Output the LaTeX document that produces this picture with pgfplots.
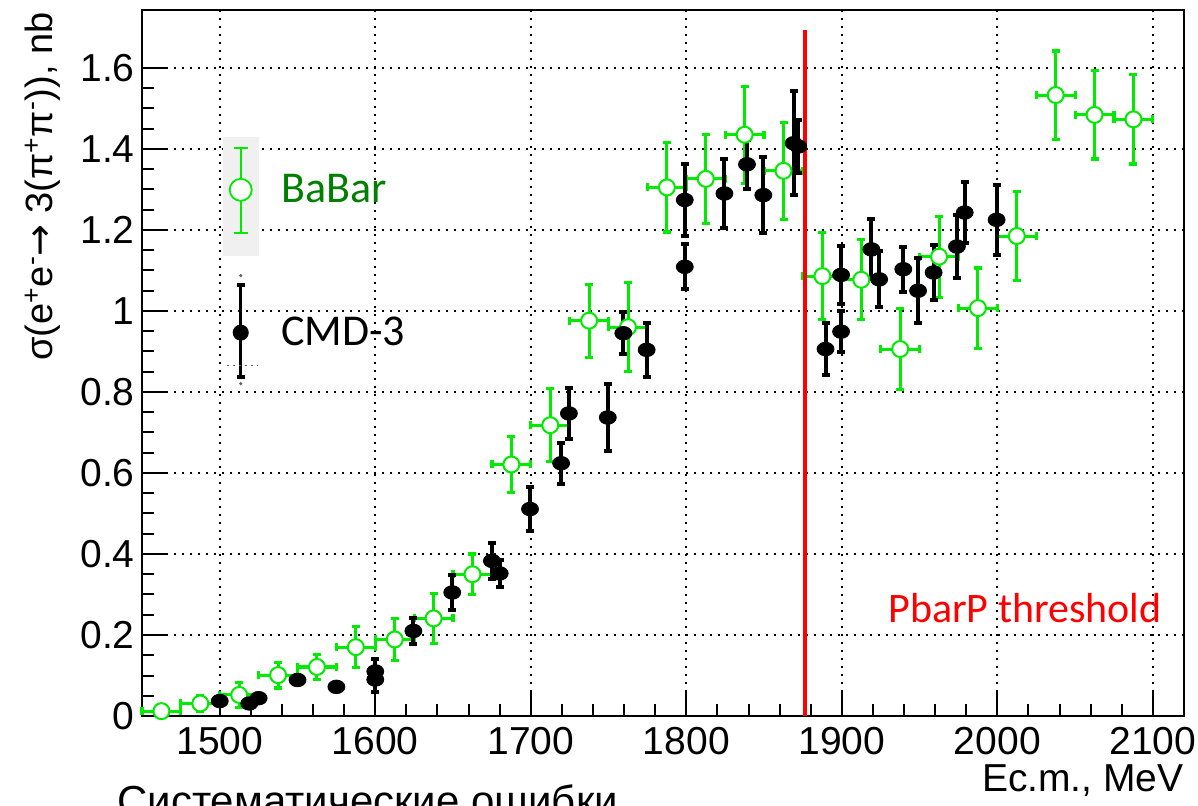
\documentclass[border=0pt]{standalone}
\usepackage{fontspec}
\setmainfont{Liberation Sans}
\newfontfamily\carlito{Carlito}
\newfontfamily\djv{DejaVu Sans}
\usepackage{pgfplots}
\usepackage{pgfplotstable}
\pgfplotsset{compat=1.18}
\definecolor{bgreen}{RGB}{0,235,0}
\definecolor{dgreen}{RGB}{0,128,0}
\definecolor{lgray}{RGB}{240,240,240}

\pgfplotstableread{
x ex y ey
1462.5 12.5 0.012 0.010
1487.5 12.5 0.031 0.020
1512.5 12.5 0.052 0.031
1537.5 12.5 0.101 0.032
1562.5 12.5 0.121 0.031
1587.5 12.5 0.170 0.051
1612.5 12.5 0.189 0.051
1637.5 12.5 0.241 0.061
1662.5 12.5 0.350 0.050
1687.5 12.5 0.621 0.070
1712.5 12.5 0.718 0.090
1737.5 12.5 0.976 0.090
1762.5 12.5 0.960 0.110
1787.5 12.5 1.305 0.110
1812.5 12.5 1.326 0.110
1837.5 12.5 1.435 0.120
1862.5 12.5 1.346 0.120
1887.5 12.5 1.086 0.108
1912.5 12.5 1.077 0.099
1937.5 12.5 0.906 0.100
1962.5 12.5 1.134 0.100
1987.5 12.5 1.007 0.099
2012.5 12.5 1.185 0.109
2037.5 12.5 1.533 0.109
2062.5 12.5 1.484 0.109
2087.5 12.5 1.473 0.110
}\babar

\pgfplotstableread{
x y ey
1500.0 0.037 0.010
1519.0 0.031 0.010
1525.0 0.044 0.010
1550.0 0.089 0.010
1575.0 0.072 0.010
1600.0 0.110 0.030
1600.0 0.090 0.030
1624.5 0.210 0.032
1649.5 0.305 0.043
1675.0 0.383 0.045
1680.0 0.352 0.033
1699.5 0.511 0.054
1719.5 0.624 0.050
1724.5 0.747 0.062
1749.5 0.737 0.083
1759.5 0.945 0.052
1774.5 0.904 0.066
1799.0 1.274 0.090
1799.0 1.109 0.056
1824.5 1.290 0.086
1839.0 1.362 0.061
1849.5 1.286 0.093
1869.0 1.414 0.128
1872.0 1.406 0.066
1889.5 0.906 0.065
1899.5 1.089 0.072
1899.5 0.949 0.050
1919.0 1.152 0.074
1924.0 1.078 0.069
1939.5 1.103 0.055
1949.0 1.050 0.080
1959.0 1.095 0.067
1974.0 1.159 0.077
1979.0 1.243 0.075
1999.5 1.225 0.086
}\cmd

\begin{document}
\begin{tikzpicture}
\begin{axis}[
  at={(0,0)}, anchor=south west,
  width=521pt, height=353pt, scale only axis,
  xmin=1450, xmax=2120, ymin=0, ymax=1.743,
  axis line style={line width=1.2pt},
  tick align=inside, tick pos=left,
  xtick={1500,1600,1700,1800,1900,2000,2100},
  xticklabels={1500,1600,1700,1800,1900,2000,2100},
  ytick={0,0.2,0.4,0.6,0.8,1,1.2,1.4,1.6},
  yticklabels={0,0.2,0.4,0.6,0.8,1,1.2,1.4,1.6},
  minor x tick num=4, minor y tick num=3,
  major tick length=12pt, minor tick length=6pt,
  every tick/.style={black, line width=1pt},
  grid=major,
  major grid style={black, line width=1pt, dash pattern=on 1pt off 3pt},
  ticklabel style={font=\fontsize{19.5}{20}\selectfont, inner sep=0pt},
  xticklabel style={yshift=-5.5pt},
  yticklabel style={xshift=-3.5pt},
  xlabel={Ec.m., MeV},
  ylabel={σ(e\textsuperscript{+}e\textsuperscript{-}{\djv →} 3(π\textsuperscript{+}π\textsuperscript{-})), nb},
  every axis x label/.style={at={(rel axis cs:1,0)}, anchor=base east, yshift=-37.5pt, inner sep=0pt, font=\fontsize{19.5}{20}\selectfont},
  every axis y label/.style={at={(rel axis cs:-0.0777,0.9972)}, rotate=90, anchor=south east, inner sep=0pt, font=\fontsize{19}{20}\selectfont},
  clip=false,
  legend style={draw=none, fill=none, at={(rel axis cs:0.0767,0.8456)}, anchor=north west, inner sep=0pt, row sep=1pt, column sep=11pt, nodes={inner sep=0pt}, font=\carlito\fontsize{22}{24}\selectfont},
  legend cell align=left,
]
\addplot[forget plot, only marks, mark=*, mark size=4pt, mark options={fill=white, draw=bgreen, line width=1pt},
  error bars/.cd, x dir=both, x explicit, y dir=both, y explicit,
  error bar style={bgreen, line width=1.5pt},
  error mark options={rotate=90, bgreen, line width=1.6pt, mark size=2pt}]
  table[x=x, y=y, x error=ex, y error=ey]{\babar};
\addplot[red, line width=2pt, forget plot] coordinates {(1876.5,0) (1876.5,1.694)};
\addplot[forget plot, only marks, mark=*, black, mark size=3.4pt, mark options={xscale=1.25},
  error bars/.cd, y dir=both, y explicit,
  error bar style={black, line width=2pt},
  error mark options={rotate=90, black, line width=2pt, mark size=2pt}]
  table[x=x, y=y, y error=ey]{\cmd};

\addlegendimage{legend image code/.code={
  \fill[lgray] (0.5pt,26pt) rectangle (18pt,-33pt);
  \draw[bgreen, line width=0.8pt] (9pt,21pt) -- (9pt,-21.5pt);
  \draw[bgreen, line width=0.8pt] (5.5pt,21pt) -- (12.5pt,21pt);
  \draw[bgreen, line width=0.8pt] (5.5pt,-21.5pt) -- (12.5pt,-21.5pt);
  \draw[bgreen, line width=0.9pt, fill=white] (9pt,0pt) circle (5.5pt);
  \path (0pt,35pt) (18pt,-35pt);
}}
\addlegendentry{\textcolor{dgreen}{BaBar}}
\addlegendimage{legend image code/.code={
  \draw[black, line width=1.6pt] (9pt,24pt) -- (9pt,-22pt);
  \draw[black, line width=2pt] (7pt,24pt) -- (11pt,24pt);
  \draw[black, line width=2pt] (7pt,-22pt) -- (11pt,-22pt);
  \fill[black] (9pt,0pt) circle (3.8pt);
  \fill[black!60] (9pt,28.5pt) circle (0.6pt);
  \fill[black!60] (9pt,-25.5pt) circle (0.6pt);
  \draw[black!60, line width=0.8pt, dash pattern=on 1pt off 2pt] (2pt,-16.5pt) -- (17.5pt,-16.5pt);
  \path (0pt,35pt) (18pt,-35pt);
}}
\addlegendentry{CMD-3}

\node[anchor=base west, text=red, font=\carlito\fontsize{21}{24}\selectfont, inner sep=0pt] at (axis cs:1929.6,0.232) {PbarP threshold};
\end{axis}
\node[anchor=base west, inner sep=0pt, font=\fontsize{21}{24}\selectfont] at (-12.5pt,-49.5pt) {Систематические ошибки};
\pgfresetboundingbox
\path[use as bounding box] (-71pt,-44.5pt) rectangle (528pt,358pt);
\end{tikzpicture}
\end{document}
